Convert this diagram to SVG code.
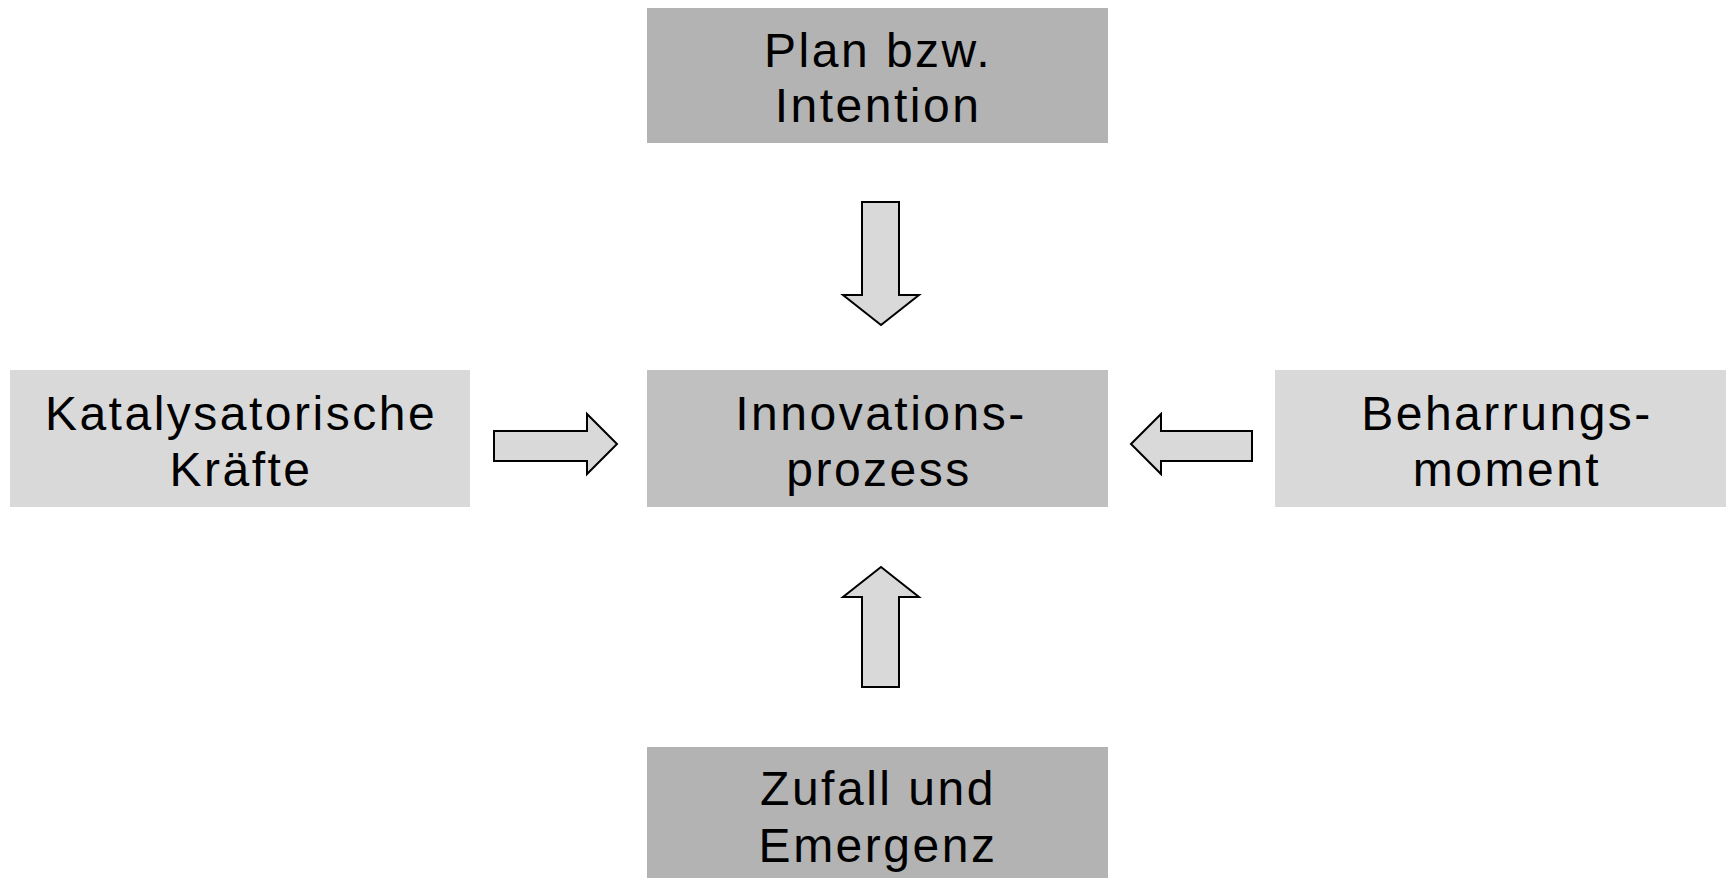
<svg xmlns="http://www.w3.org/2000/svg" width="1726" height="878" viewBox="0 0 1726 878">
<style>
  .lbl { font-family: "Liberation Sans", Arial, sans-serif; font-size: 48px; letter-spacing: 2.5px; fill: #000; text-anchor: middle; }
  .arrow { fill: #d9d9d9; stroke: #000; stroke-width: 2; stroke-linejoin: miter; }
</style>
<rect width="1726" height="878" fill="#fff"/>
<g id="plan">
  <rect x="647" y="8" width="461" height="135" fill="#b3b3b3"/>
  <text class="lbl" x="878" y="67">Plan bzw.</text>
  <text class="lbl" x="878" y="122">Intention</text>
</g>
<g id="katalysatorische">
  <rect x="10" y="370" width="460" height="137" fill="#d9d9d9"/>
  <text class="lbl" x="241" y="430">Katalysatorische</text>
  <text class="lbl" x="241" y="486">Kräfte</text>
</g>
<g id="innovation">
  <rect x="647" y="370" width="461" height="137" fill="#c0c0c0"/>
  <text class="lbl" x="881" y="430">Innovations-</text>
  <text class="lbl" x="879" y="486">prozess</text>
</g>
<g id="beharrung">
  <rect x="1275" y="370" width="470" height="137" fill="#d9d9d9"/>
  <text class="lbl" x="1507" y="430">Beharrungs-</text>
  <text class="lbl" x="1507" y="486">moment</text>
</g>
<g id="zufall">
  <rect x="647" y="747" width="461" height="140" fill="#b3b3b3"/>
  <text class="lbl" x="878" y="805">Zufall und</text>
  <text class="lbl" x="878" y="862">Emergenz</text>
</g>
<g id="connectors">
  <polygon class="arrow" points="862,202 899,202 899,295 919,295 881,325 843,295 862,295"/>
  <polygon class="arrow" points="881,567 919,597 899,597 899,687 862,687 862,597 843,597"/>
  <polygon class="arrow" points="494,431 587,431 587,414 617,444 587,474 587,461 494,461"/>
  <polygon class="arrow" points="1131,444 1161,414 1161,431 1252,431 1252,461 1161,461 1161,474"/>
</g>
</svg>
